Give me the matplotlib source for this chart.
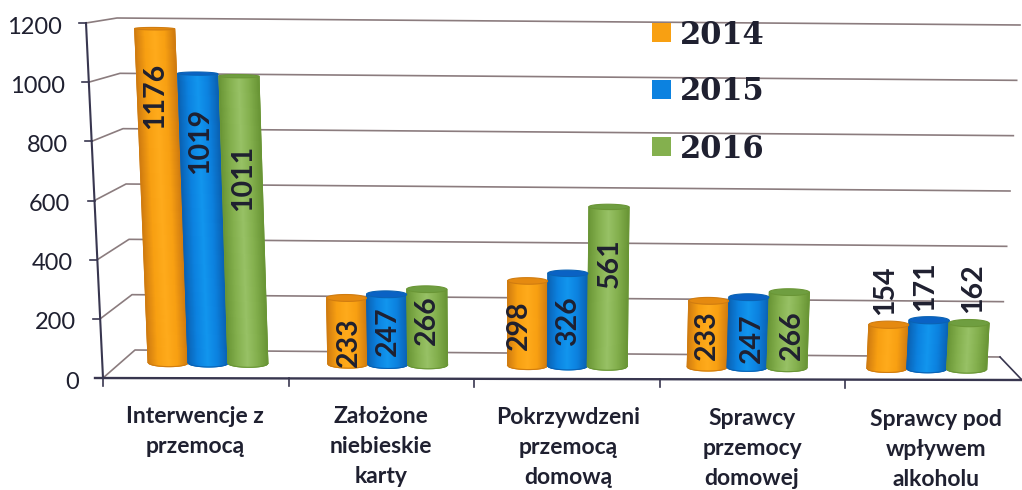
# -*- coding: utf-8 -*-
import numpy as np
import matplotlib
matplotlib.use('Agg')
import matplotlib.pyplot as plt
from matplotlib.colors import LinearSegmentedColormap
from matplotlib.patches import Polygon, Rectangle
from matplotlib.transforms import Affine2D

categories = ['Interwencje z\nprzemocą', 'Założone\nniebieskie\nkarty',
              'Pokrzywdzeni\nprzemocą\ndomową', 'Sprawcy\nprzemocy\ndomowej',
              'Sprawcy pod\nwpływem\nalkoholu']
years = ['2014', '2015', '2016']
v2014 = [1176, 233, 298, 233, 154]
v2015 = [1019, 247, 326, 247, 171]
v2016 = [1011, 266, 561, 266, 162]
y_ticks = [0, 200, 400, 600, 800, 1000, 1200]

# where the rotated value labels sit on the scan (pixels), per year and group
label_x = [[155, 349, 519, 707, 885], [200, 388, 568, 752, 925], [243, 427, 610, 792, 973]]
label_y = [[96, 342, 325, 335, 290], [141, 331, 321, 338, 286], [178, 320, 263, 335, 288]]
cat_x = [195, 381, 568, 752, 936]
cat_y = [416, 416, 417, 418, 419]

colors = [
    ('#d07c10', '#f8a012', '#ffab1c', '#f8a012', '#d07c10', '#e58a10'),
    ('#0a62b4', '#0c82e0', '#1296ee', '#0c82e0', '#0a62b4', '#0a62c4'),
    ('#6a9636', '#84b04e', '#98c266', '#84b04e', '#6a9636', '#6f9e40'),
]

K = 0.284      # pixels per unit of value
WIDTH = 0.222
STEP = 0.222
GRID = '#8b7c7e'
AXIS = '#38364f'
INK = '#1f2030'

plt.rcParams['font.family'] = ['Lato', 'DejaVu Sans']
fig = plt.figure(figsize=(10.22, 4.90), dpi=100)
ax = fig.add_axes([0, 0, 1, 1])


def front(v):
    return 103 - 17 * v / 1200, 378 - 355 * v / 1200


def back_left(v):
    return 135 - 18 * v / 1200, 350 - 332 * v / 1200


def back_right(v):
    return 1000 + 20 * v / 1200, 357 - 332 * v / 1200


def cap_half(v):
    # caps flatten out towards the top of the chart, in value units
    return 14 * (1 - 0.7 * v / 1200)


def bar_tf(x):
    # the scan is tilted and the cylinders fan out a little from the middle
    px = 208 + 179.7 * x
    lean = 0.044 - 0.1 * (px - 135) / 865
    return Affine2D(np.array([[179.7, -lean * K, 208],
                              [1.45, -K, 363],
                              [0, 0, 1]])) + ax.transData


def cylinder(x, v, cols):
    tf = bar_tf(x)
    t = np.linspace(-1, 1, 41)
    xs = x + t * WIDTH / 2
    low = -cap_half(0) * np.sqrt(1 - t ** 2)
    X = np.vstack([xs, xs])
    Y = np.vstack([low, np.full_like(t, v)])
    C = np.vstack([t, t])
    cmap = LinearSegmentedColormap.from_list('c', cols[:5])
    ax.pcolormesh(X, Y, C, cmap=cmap, vmin=-1, vmax=1, shading='gouraud',
                  transform=tf, zorder=3)
    ax.plot(xs, low, color=cols[0], lw=0.8, transform=tf, zorder=3)
    ax.plot([xs[0], xs[0]], [0, v], color=cols[0], lw=0.8, transform=tf, zorder=3)
    ax.plot([xs[-1], xs[-1]], [0, v], color=cols[0], lw=0.8, transform=tf, zorder=3)
    a = np.linspace(0, 2 * np.pi, 60)
    cap = np.column_stack([x + np.cos(a) * WIDTH / 2, v + np.sin(a) * cap_half(v)])
    ax.add_patch(Polygon(cap, closed=True, facecolor=cols[5], edgecolor=cols[0],
                         lw=0.8, transform=tf, zorder=3.1))


# walls
for v in y_ticks:
    fx, fy = front(v)
    lx, ly = back_left(v)
    rx, ry = back_right(v)
    ax.plot([fx, lx, rx], [fy, ly, ry], color=GRID, lw=1.2, zorder=1)
    if v > 0:
        ax.plot([fx - 7, fx], [fy, fy], color=AXIS, lw=1.2, zorder=2)
    ax.text(fx - 24, fy + 4, str(v), ha='right', va='center', fontsize=17, color=INK)

fx0, fy0 = front(0)
fx1, fy1 = front(1200)
ax.plot([fx0, fx1], [fy0, fy1], color=AXIS, lw=1.5, zorder=2)
ax.plot([95, 1022], [378, 380], color=AXIS, lw=1.7, zorder=2)
rx0, ry0 = back_right(0)
ax.plot([rx0, 1022], [ry0, 380], color=AXIS, lw=1.2, zorder=2)
for i in range(5):
    tx = 103 + 185.6 * i
    ax.plot([tx, tx], [378 + i * 0.4, 386 + i * 0.4], color=AXIS, lw=1.2, zorder=2)

# cylinders
series = [v2014, v2015, v2016]
for g in range(len(categories)):
    for s in range(len(years)):
        cylinder(g + (s - 1) * STEP, series[s][g], colors[s])

# value labels
for s in range(len(years)):
    for g in range(len(categories)):
        ax.text(label_x[s][g], label_y[s][g], str(series[s][g]), rotation=90, ha='center',
                va='center', fontsize=20.5, fontweight='bold', color=INK, zorder=5)

# category labels
for g, name in enumerate(categories):
    for n, line in enumerate(name.split('\n')):
        ax.text(cat_x[g], cat_y[g] + 30 * n, line, ha='center', va='center', fontsize=16.5,
                fontweight='bold', color=INK, zorder=5)

# legend
for s, year in enumerate(years):
    ly = 32 + 57 * s
    ax.add_patch(Rectangle((652, ly - 9), 19, 19, facecolor=colors[s][1], edgecolor='none', zorder=5))
    ax.text(680, ly + 3, year, ha='left', va='center', fontsize=22, fontweight='bold',
            family=['DejaVu Serif'], color=INK, zorder=5)

ax.set_xlim(0, 1022)
ax.set_ylim(490, 0)
ax.axis('off')
fig.savefig('out.png', dpi=100, facecolor='white')
